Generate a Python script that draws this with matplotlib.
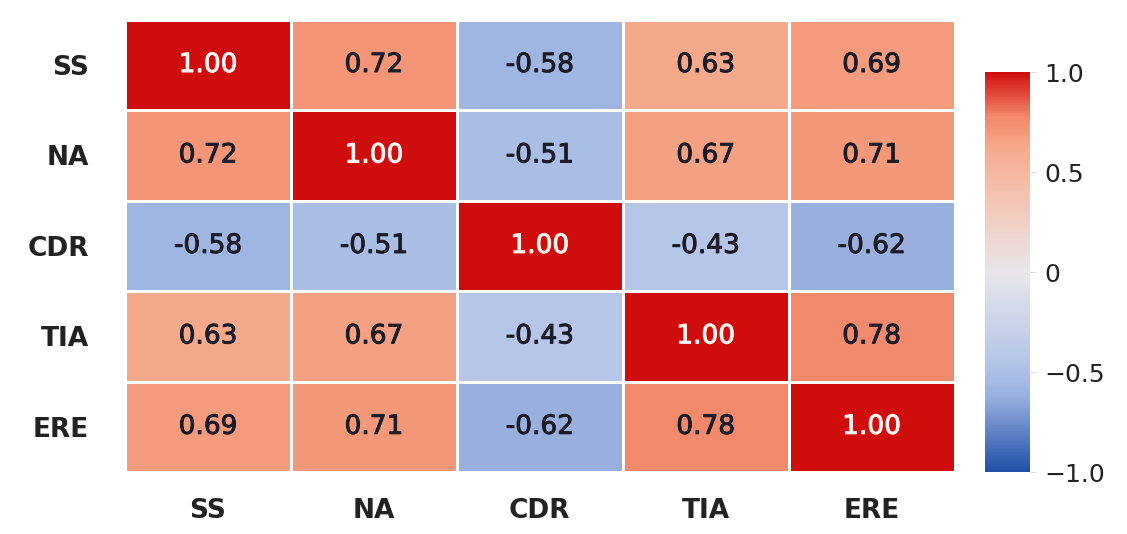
import matplotlib.pyplot as plt
import matplotlib.patheffects as pe
import numpy as np
from matplotlib.colors import LinearSegmentedColormap

plt.rcParams['font.family'] = ['DejaVu Sans']

labels = ["SS", "NA", "CDR", "TIA", "ERE"]
corr = np.array([
    [1.00, 0.72, -0.58, 0.63, 0.69],
    [0.72, 1.00, -0.51, 0.67, 0.71],
    [-0.58, -0.51, 1.00, -0.43, -0.62],
    [0.63, 0.67, -0.43, 1.00, 0.78],
    [0.69, 0.71, -0.62, 0.78, 1.00],
])
cbar_ticks = [-1.0, -0.5, 0, 0.5, 1.0]
cbar_ticklabels = ["\u22121.0", "\u22120.5", "0", "0.5", "1.0"]

# washed-out coolwarm look of the original
cmap = LinearSegmentedColormap.from_list("cw", [
    (0.0, "#2050a8"), (0.19, "#9ab1e0"), (0.285, "#b6c7e8"), (0.5, "#e8e6ea"),
    (0.7, "#f5c2ae"), (0.815, "#f5a98b"), (0.89, "#f2896a"), (1.0, "#d00d0d")])

fig = plt.figure(figsize=(11.27, 5.34), dpi=100)
ax = fig.add_axes([0.111, 0.116, 0.736, 0.847])
cax = fig.add_axes([0.874, 0.116, 0.040, 0.749])

n = len(labels)
mesh = ax.pcolormesh(np.arange(n + 1), np.arange(n + 1), corr, cmap=cmap,
                     vmin=-1, vmax=1, edgecolor="white", linewidth=2)
ax.set_xlim(0, n)
ax.set_ylim(n, 0)
for i in range(n):
    for j in range(n):
        v = corr[i, j]
        c = "#fff4f0" if v > 0.9 else "#1c1c28"
        ax.text(j + 0.5, i + 0.5, f"{v:.2f}", ha="center", va="center",
                fontsize=19, color=c,
                path_effects=[pe.withStroke(linewidth=0.7, foreground=c)])

ax.set_xticks(np.arange(n) + 0.5)
ax.set_yticks(np.arange(n) + 0.5)
ax.set_xticklabels(labels, fontsize=19, fontweight="bold", color="#222222")
ax.set_yticklabels(labels, fontsize=19, fontweight="bold", color="#222222")
ax.tick_params(axis="y", length=0, pad=26)
ax.tick_params(axis="x", length=0, pad=19)
for s in ax.spines.values():
    s.set_visible(False)

cb = fig.colorbar(mesh, cax=cax, ticks=cbar_ticks)
cb.ax.set_yticklabels(cbar_ticklabels, fontsize=18, color="#222222")
cb.outline.set_visible(False)
cb.ax.tick_params(length=4, color="#dddddd", pad=6)

fig.savefig("out.png", dpi=100)
